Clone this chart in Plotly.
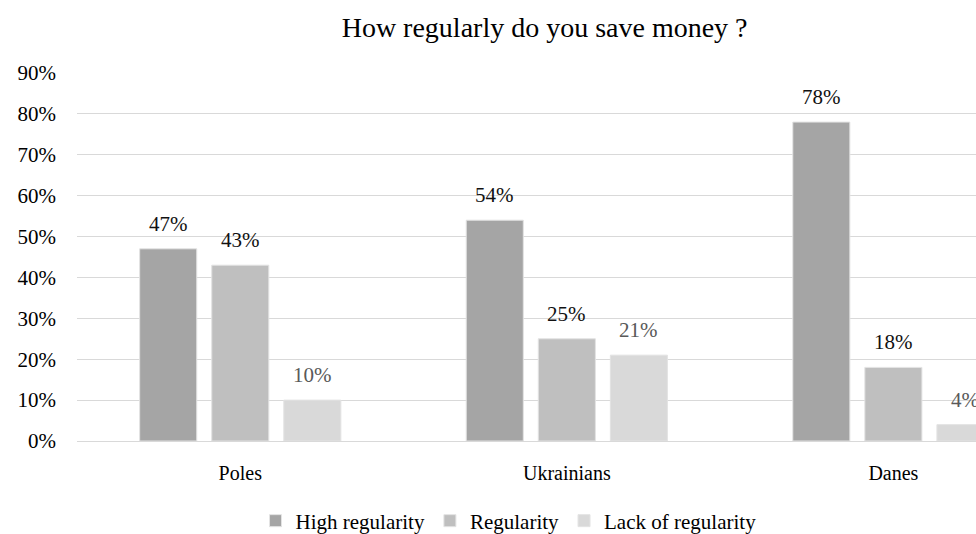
import plotly.graph_objects as go

categories = ["Poles", "Ukrainians", "Danes"]
high_regularity = [0.47, 0.54, 0.78]
regularity = [0.43, 0.25, 0.18]
lack_of_regularity = [0.10, 0.21, 0.04]
series_names = ["High regularity", "Regularity", "Lack of regularity"]
y_ticks = [0, 0.1, 0.2, 0.3, 0.4, 0.5, 0.6, 0.7, 0.8, 0.9]

colors = ["#a5a5a5", "#bfbfbf", "#d9d9d9"]
text_colors = ["#111111", "#111111", "#595959"]
font_family = "Liberation Serif, Times New Roman, serif"

W, H = 976, 534
ML, MR, MT, MB = 77, 0, 73, 93
x_range = [-0.5, 2.253]
bargap, bargroupgap = 0.338, 0.208
cat_px = (W - ML - MR) / (x_range[1] - x_range[0])
slot_px = (1 - bargap) * cat_px / 3

series = [high_regularity, regularity, lack_of_regularity]

fig = go.Figure()
annotations = []
for i, (name, vals, c, tc) in enumerate(zip(series_names, series, colors, text_colors)):
    fig.add_trace(go.Bar(
        x=categories, y=vals, name=name,
        marker=dict(color=c, line=dict(color="#e3e3e3", width=1)),
        hoverinfo="x+y+name",
    ))
    for cat, v in zip(categories, vals):
        annotations.append(dict(
            x=cat, y=v, xref="x", yref="y",
            text=f"{round(v*100)}%", showarrow=False,
            xshift=(i - 1) * slot_px, yshift=11, yanchor="bottom",
            font=dict(family=font_family, size=21, color=tc),
        ))

fig.update_layout(
    width=W, height=H,
    margin=dict(l=ML, r=MR, t=MT, b=MB, autoexpand=False),
    paper_bgcolor="white", plot_bgcolor="white",
    barmode="group", bargap=bargap, bargroupgap=bargroupgap,
    title=dict(text="How regularly do you save money ?", x=0.558, xref="container",
               xanchor="center", y=0.95, yanchor="middle",
               font=dict(family=font_family, size=28, color="#000000")),
    xaxis=dict(range=x_range, showgrid=False, showline=False, ticks="",
               tickfont=dict(family=font_family, size=20, color="#000000"),
               ticklabelstandoff=18, fixedrange=True),
    yaxis=dict(range=[0, 0.9], tickvals=y_ticks, tickformat=".0%",
               showgrid=True, gridcolor="#d9d9d9", gridwidth=1,
               zeroline=True, zerolinecolor="#d9d9d9", zerolinewidth=1,
               showline=False, ticks="",
               tickfont=dict(family=font_family, size=21, color="#000000"),
               ticklabelstandoff=20),
    legend=dict(orientation="h", x=0.48, xanchor="center",
                yref="container", y=1 - 521 / H, yanchor="middle",
                font=dict(family=font_family, size=21, color="#000000"),
                itemwidth=30, traceorder="normal"),
    annotations=annotations,
    showlegend=True,
)

fig.write_html("out.html")
